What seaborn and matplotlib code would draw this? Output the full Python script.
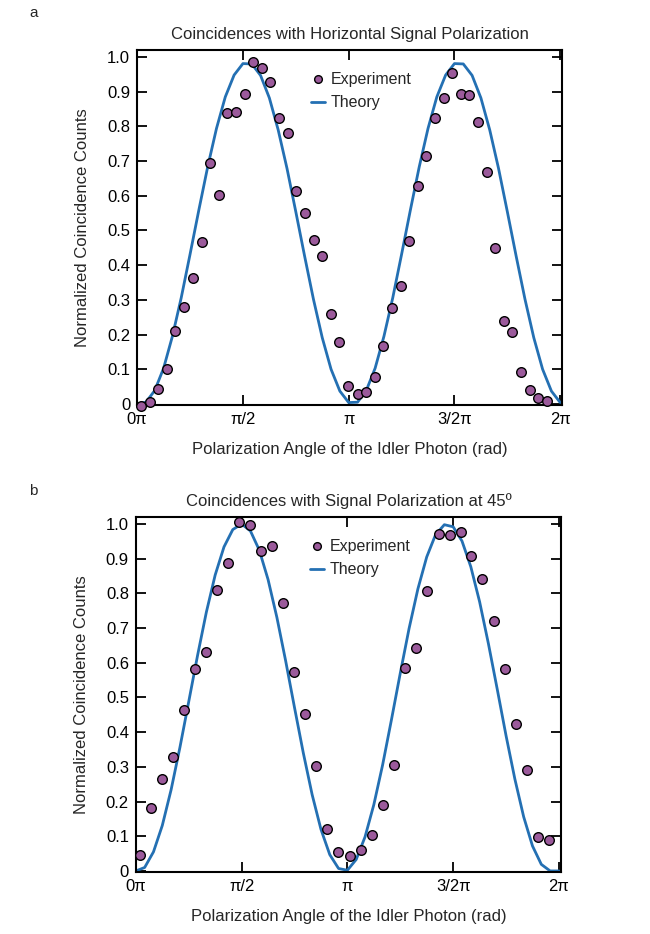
import numpy as np
import matplotlib.pyplot as plt
import seaborn as sns

# ---- data (angles in units of pi) ----
exp_theta_a = [0.016, 0.059, 0.10, 0.14, 0.181, 0.223, 0.264, 0.305, 0.345, 0.386,
               0.427, 0.467, 0.508, 0.548, 0.589, 0.630, 0.672, 0.713, 0.753, 0.794,
               0.834, 0.875, 0.916, 0.956, 0.997, 1.042, 1.083, 1.123, 1.164, 1.204,
               1.245, 1.285, 1.326, 1.366, 1.408, 1.449, 1.489, 1.530, 1.570, 1.612,
               1.653, 1.693, 1.734, 1.774, 1.815, 1.855, 1.896, 1.936]
exp_counts_a = [-0.005, 0.006, 0.044, 0.102, 0.21, 0.28, 0.364, 0.467, 0.694, 0.603,
                0.838, 0.842, 0.893, 0.986, 0.969, 0.929, 0.823, 0.782, 0.614, 0.549,
                0.472, 0.425, 0.259, 0.179, 0.052, 0.030, 0.035, 0.078, 0.167, 0.276,
                0.340, 0.469, 0.627, 0.716, 0.824, 0.883, 0.953, 0.893, 0.890, 0.813,
                0.669, 0.449, 0.238, 0.206, 0.092, 0.041, 0.018, 0.009]

exp_theta_b = [0.019, 0.072, 0.123, 0.175, 0.228, 0.281, 0.331, 0.383, 0.436, 0.488,
               0.541, 0.592, 0.644, 0.695, 0.748, 0.800, 0.852, 0.903, 0.955, 1.011,
               1.064, 1.116, 1.170, 1.222, 1.274, 1.325, 1.377, 1.431, 1.483, 1.536,
               1.586, 1.638, 1.692, 1.745, 1.797, 1.849, 1.901, 1.951]
exp_counts_b = [0.047, 0.180, 0.265, 0.329, 0.464, 0.581, 0.631, 0.810, 0.888, 1.007,
                0.998, 0.921, 0.936, 0.771, 0.574, 0.451, 0.302, 0.122, 0.055, 0.042,
                0.061, 0.105, 0.190, 0.304, 0.585, 0.644, 0.806, 0.971, 0.968, 0.976,
                0.909, 0.841, 0.721, 0.583, 0.424, 0.292, 0.097, 0.090]

theory_theta = np.linspace(0, 2, 49)
theory_a = [0.0, 0.005, 0.039, 0.103, 0.195, 0.306, 0.431, 0.559, 0.683, 0.794,
            0.885, 0.948, 0.981, 0.980, 0.947, 0.882, 0.790, 0.679, 0.554, 0.426,
            0.302, 0.191, 0.100, 0.037, 0.004, 0.005, 0.039, 0.103, 0.195, 0.306,
            0.431, 0.559, 0.683, 0.794, 0.885, 0.948, 0.981, 0.980, 0.947, 0.882,
            0.790, 0.679, 0.554, 0.426, 0.302, 0.191, 0.100, 0.037, 0.004]
theory_b = [0.0, 0.010, 0.055, 0.131, 0.234, 0.356, 0.488, 0.621, 0.746, 0.853,
            0.934, 0.984, 1.0, 0.980, 0.925, 0.840, 0.731, 0.605, 0.471, 0.340,
            0.220, 0.120, 0.047, 0.007, 0.002, 0.033, 0.098, 0.191, 0.306, 0.436,
            0.570, 0.699, 0.813, 0.905, 0.969, 0.998, 0.992, 0.951, 0.877, 0.776,
            0.655, 0.524, 0.390, 0.265, 0.156, 0.072, 0.019, 0.0, 0.0]

titles = ["Coincidences with Horizontal Signal Polarization",
          "Coincidences with Signal Polarization at 45\u00ba"]
panel_letters = ["a", "b"]
xtick_labels = ["0\u03c0", "\u03c0/2", "\u03c0", "3/2\u03c0", "2\u03c0"]
ytick_vals = [0, 0.1, 0.2, 0.3, 0.4, 0.5, 0.6, 0.7, 0.8, 0.9, 1.0]
ytick_labels = ["0", "0.1", "0.2", "0.3", "0.4", "0.5", "0.6", "0.7", "0.8", "0.9", "1.0"]

sns.set_theme(style="ticks")
plt.rcParams['font.family'] = ['Liberation Sans', 'DejaVu Sans']

dot_color = "#9b5a9b"
line_color = "#2470b3"

fig = plt.figure(figsize=(6.5, 9.34), dpi=100)
axes = [fig.add_axes([0.211, 0.5664, 0.654, 0.380]),
        fig.add_axes([0.209, 0.0664, 0.654, 0.380])]

panels = [(exp_theta_a, exp_counts_a, theory_a), (exp_theta_b, exp_counts_b, theory_b)]

for i, ax in enumerate(axes):
    ex_t, ex_c, th = panels[i]
    sns.lineplot(x=theory_theta * np.pi, y=th, ax=ax, color=line_color, lw=2.0,
                 sort=False, estimator=None, label="Theory", zorder=2)
    sns.scatterplot(x=np.array(ex_t) * np.pi, y=ex_c, ax=ax, color=dot_color,
                    edgecolor="black", linewidth=1.0, s=48, label="Experiment",
                    zorder=3, clip_on=False)
    ax.set_xlim(0, 2 * np.pi + 0.03)
    ax.set_ylim(-0.003, 1.02)
    ax.set_xticks([0, np.pi / 2, np.pi, 1.5 * np.pi, 2 * np.pi])
    ax.set_xticklabels(xtick_labels)
    ax.set_yticks(ytick_vals)
    ax.set_yticklabels(ytick_labels)
    ax.tick_params(direction="in", top=True, right=True, length=7, width=1.3,
                   labelsize=12, color="black", labelcolor="black", pad=5)
    for sp in ax.spines.values():
        sp.set_linewidth(1.5)
        sp.set_color("black")
    ax.set_title(titles[i], fontsize=12, pad=8)
    ax.set_xlabel("Polarization Angle of the Idler Photon (rad)", fontsize=12, labelpad=11)
    ax.set_ylabel("Normalized Coincidence Counts", fontsize=12, labelpad=12)
    handles, labels = ax.get_legend_handles_labels()
    order = [labels.index("Experiment"), labels.index("Theory")]
    ax.legend([handles[j] for j in order], [labels[j] for j in order],
              loc="upper left", bbox_to_anchor=(0.375, 0.98), frameon=False,
              fontsize=11.5, handlelength=0.9, handletextpad=0.35,
              labelspacing=0.55, markerscale=0.8)

fig.text(0.045, 0.994, panel_letters[0], fontsize=11, va="top")
fig.text(0.045, 0.482, panel_letters[1], fontsize=11, va="top")

fig.savefig("out.png", dpi=100)
